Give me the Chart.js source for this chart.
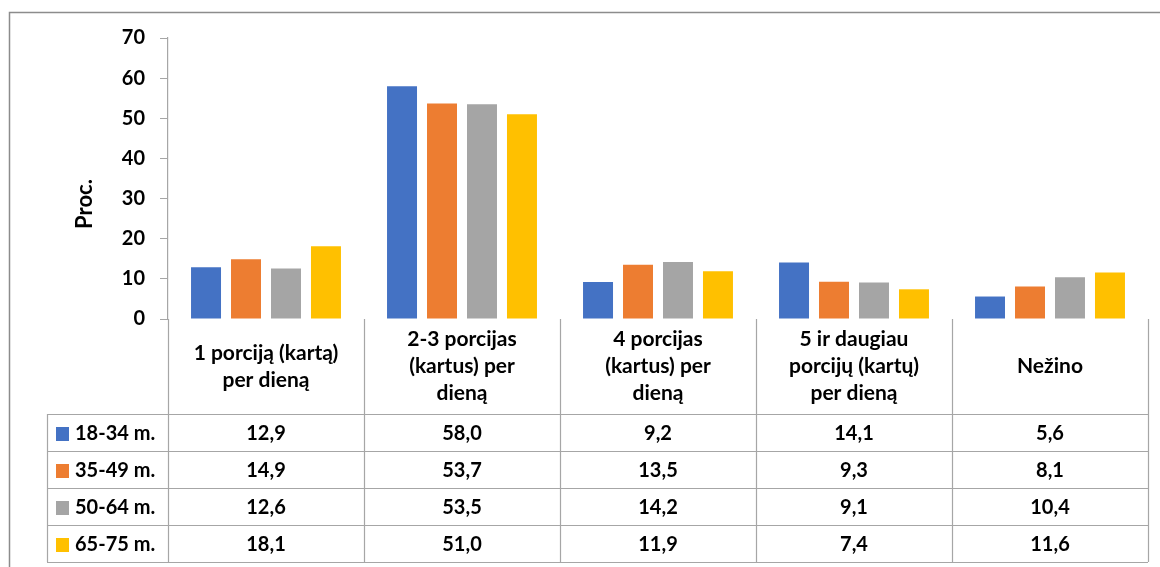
<!DOCTYPE html>
<html lang="lt">
<head>
<meta charset="utf-8">
<title>Porcijos per dieną pagal amžiaus grupes</title>
<script src="https://cdn.jsdelivr.net/npm/chart.js@4/dist/chart.umd.min.js"></script>
<style>
  html, body { margin: 0; padding: 0; background: #fff; }
  #wrap { position: relative; width: 1160px; height: 567px; }
</style>
</head>
<body>
<div id="wrap"><canvas id="chart"></canvas></div>
<script>
// Categories (header lines as shown in the data table)
const categories = [
  ['1 porciją (kartą)', 'per dieną'],
  ['2-3 porcijas', '(kartus) per', 'dieną'],
  ['4 porcijas', '(kartus) per', 'dieną'],
  ['5 ir daugiau', 'porcijų (kartų)', 'per dieną'],
  ['Nežino']
];

const groups = ['18-34 m.', '35-49 m.', '50-64 m.', '65-75 m.'];
const colors = ['#4472C4', '#ED7D31', '#A5A5A5', '#FFC000'];

const age18_34 = [12.9, 58.0, 9.2, 14.1, 5.6];
const age35_49 = [14.9, 53.7, 13.5, 9.3, 8.1];
const age50_64 = [12.6, 53.5, 14.2, 9.1, 10.4];
const age65_75 = [18.1, 51.0, 11.9, 7.4, 11.6];
const series = [age18_34, age35_49, age50_64, age65_75];

const yTicks = [0, 10, 20, 30, 40, 50, 60, 70];

const FONT = 'Lato, "Open Sans", sans-serif';
const lineColor = '#a6a6a6';

const fmt = v => v.toFixed(1).replace('.', ',');

// Data table under the plot + y title + outer frame
const tablePlugin = {
  id: 'dataTable',
  afterDraw(chart) {
    const ctx = chart.ctx;
    const x = chart.scales.x;
    const area = chart.chartArea;
    const n = categories.length;
    const colW = (x.right - x.left) / n;
    const headTop = area.bottom;
    const headBottom = 414;
    const rowH = 37;
    const legendLeft = 47;
    const tableBottom = headBottom + rowH * groups.length;

    ctx.save();

    // outer frame
    ctx.strokeStyle = '#8c8c8c';
    ctx.lineWidth = 1.5;
    ctx.beginPath();
    ctx.moveTo(9.5, chart.height);
    ctx.lineTo(9.5, 12.5);
    ctx.lineTo(chart.width, 12.5);
    ctx.stroke();

    // grid of the table
    ctx.strokeStyle = lineColor;
    ctx.lineWidth = 1.2;
    ctx.beginPath();
    for (let i = 0; i <= n; i++) {
      const cx = Math.round(x.left + colW * i) + 0.5;
      ctx.moveTo(cx, headTop);
      ctx.lineTo(cx, tableBottom);
    }
    ctx.moveTo(legendLeft + 0.5, headBottom);
    ctx.lineTo(legendLeft + 0.5, tableBottom);
    for (let r = 0; r <= groups.length; r++) {
      const ry = headBottom + rowH * r + 0.5;
      ctx.moveTo(legendLeft, ry);
      ctx.lineTo(x.right, ry);
    }
    ctx.stroke();

    ctx.fillStyle = '#000';
    ctx.textAlign = 'center';
    ctx.textBaseline = 'middle';
    ctx.font = 'bold 21px ' + FONT;

    // column headers
    const lh = 27;
    const midHead = (headTop + headBottom) / 2;
    categories.forEach((lines, i) => {
      const cx = x.left + colW * (i + 0.5);
      const y0 = midHead - (lines.length - 1) * lh / 2;
      lines.forEach((t, k) => ctx.fillText(t, cx, y0 + k * lh));
    });

    // rows: legend key + values
    ctx.font = 'bold 20px ' + FONT;
    groups.forEach((g, r) => {
      const cy = headBottom + rowH * (r + 0.5) + 1;
      ctx.fillStyle = colors[r];
      ctx.fillRect(56, Math.round(cy - 7), 13, 14);
      ctx.fillStyle = '#000';
      ctx.textAlign = 'left';
      ctx.fillText(g, 75, cy);
      ctx.textAlign = 'center';
      series[r].forEach((v, i) => {
        ctx.fillText(fmt(v), x.left + colW * (i + 0.5), cy);
      });
    });

    // y axis title
    ctx.translate(85, 204);
    ctx.rotate(-Math.PI / 2);
    ctx.font = 'bold 22px ' + FONT;
    ctx.fillText('Proc.', 0, 0);

    ctx.restore();
  }
};

new Chart(document.getElementById('chart'), {
  type: 'bar',
  data: {
    labels: categories.map(c => c.join(' ')),
    datasets: groups.map((g, i) => ({
      label: g,
      data: series[i],
      backgroundColor: colors[i],
      categoryPercentage: 0.816,
      barPercentage: 0.75
    }))
  },
  options: {
    responsive: true,
    maintainAspectRatio: false,
    animation: false,
    layout: { padding: { left: 0, right: 12, top: 38, bottom: 248 } },
    plugins: {
      legend: { display: false },
      tooltip: { enabled: false }
    },
    scales: {
      x: { display: false },
      y: {
        min: 0,
        max: 70,
        afterFit(scale) { scale.width = 168; },
        afterBuildTicks(scale) { scale.ticks = yTicks.map(v => ({ value: v })); },
        border: { color: lineColor, width: 1.2 },
        grid: { drawOnChartArea: false, color: lineColor, tickLength: 8 },
        ticks: {
          padding: 15,
          color: '#000',
          font: { family: FONT, size: 20, weight: 'bold' }
        }
      }
    }
  },
  plugins: [tablePlugin]
});
</script>
</body>
</html>
